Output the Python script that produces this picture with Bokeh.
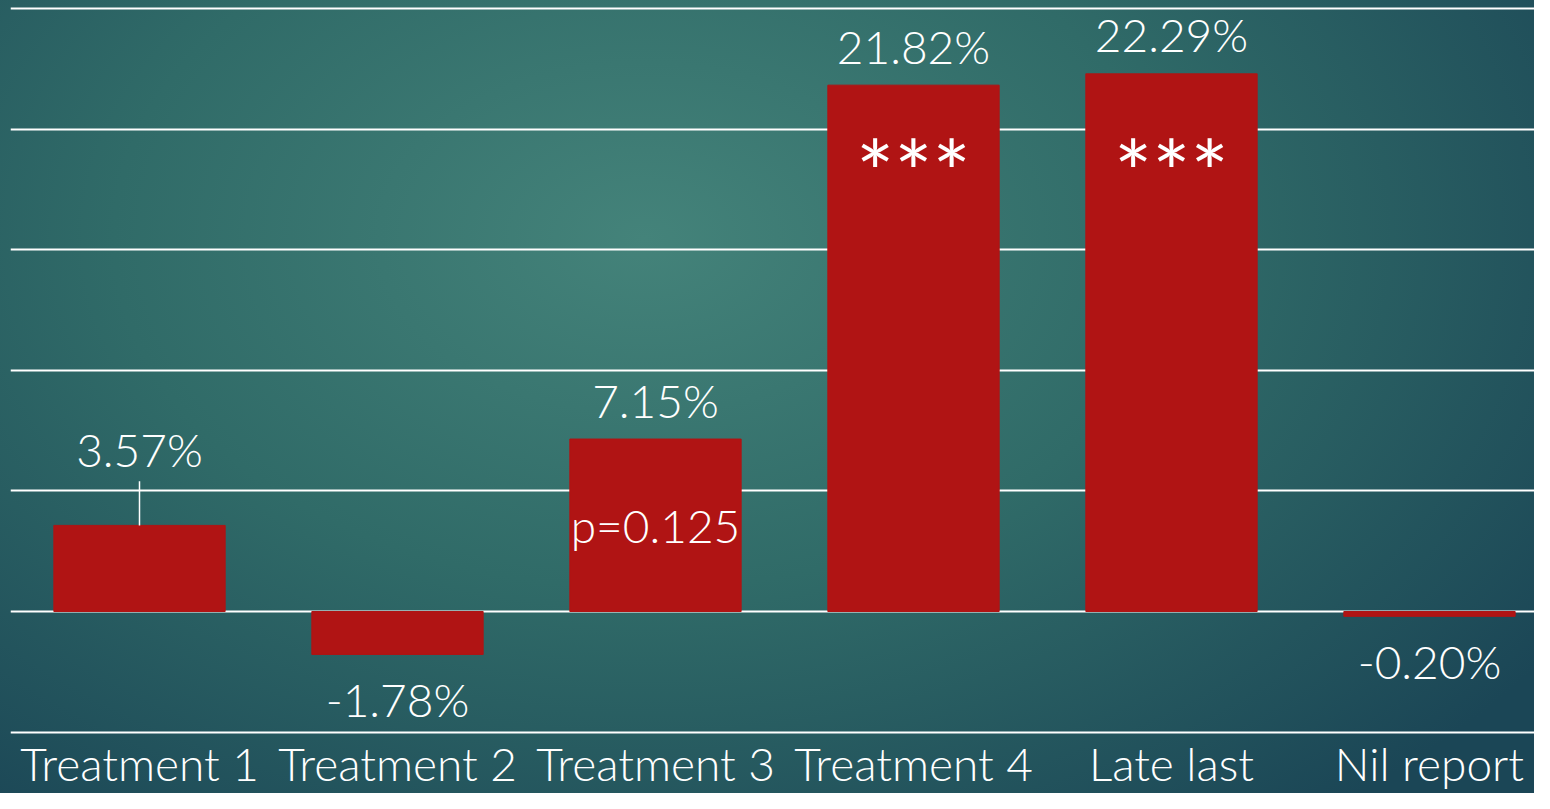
from bokeh.plotting import figure
from bokeh.models import FixedTicker, ColumnDataSource, Range1d
from bokeh.core.properties import value
from bokeh.embed import file_html
from bokeh.resources import INLINE

categories = ["Treatment 1", "Treatment 2", "Treatment 3", "Treatment 4", "Late last", "Nil report"]
values = [3.57, -1.78, 7.15, 21.82, 22.29, -0.20]
value_labels = ["3.57%", "-1.78%", "7.15%", "21.82%", "22.29%", "-0.20%"]
notes = ["", "", "p=0.125", "***", "***", ""]
y_ticks = [-5, 0, 5, 10, 15, 20, 25]

FONT = "Lato Light"
BAR = "#B01414"

xs = [i + 0.5 for i in range(len(categories))]

p = figure(x_range=Range1d(0, 5.907), y_range=Range1d(-5.14, 25.33),
           width=1534, height=793, output_backend="svg", toolbar_location=None,
           min_border_left=10, min_border_right=0, min_border_top=0)
p.styles = {"background-image": "radial-gradient(ellipse 72% 92% at 42% 30%, #44837a 0%, #306b68 48%, #1b4656 100%)"}
p.background_fill_color = None
p.border_fill_color = None
p.outline_line_color = None

p.vbar(x=xs, top=values, width=0.664, color=BAR)

# value labels
offsets = []
for c, v in zip(categories, values):
    if c == "Treatment 1":
        offsets.append(-76)
    elif v >= 0:
        offsets.append(-39)
    else:
        offsets.append(45)
src = ColumnDataSource(dict(x=xs, y=values, t=value_labels, off=offsets))
p.text(x="x", y="y", text="t", y_offset="off", source=src, text_align="center",
       text_baseline="middle", text_color="white", text_font=value(FONT),
       text_font_size="46px")

# leader line for first label
p.segment(x0=[xs[0]], y0=[values[0]], x1=[xs[0]], y1=[values[0] + 1.83],
          line_color="white", line_width=1.5)

# significance notes inside bars
starred = [v for v, n in zip(values, notes) if n == "***"]
star_level = min(starred) - 2.9
sx = [x for x, n in zip(xs, notes) if n == "***"]
p.text(x=sx, y=[star_level] * len(sx), text=["***"] * len(sx), y_offset=16,
       text_align="center", text_baseline="middle", text_color="white",
       text_font=value("Lato"), text_font_size="90px")

px_ = [x for x, n in zip(xs, notes) if n and n != "***"]
pv = [v / 2 for v, n in zip(values, notes) if n and n != "***"]
pt = [n for n in notes if n and n != "***"]
p.text(x=px_, y=pv, text=pt, text_align="center", text_baseline="middle",
       text_color="white", text_font=value(FONT), text_font_size="46px")

p.ygrid.ticker = FixedTicker(ticks=y_ticks)
p.ygrid.grid_line_color = "white"
p.ygrid.grid_line_width = 2
p.xgrid.visible = False
p.yaxis.visible = False

p.xaxis.ticker = FixedTicker(ticks=xs)
p.xaxis.major_label_overrides = {x: c for x, c in zip(xs, categories)}
p.xaxis.axis_line_color = None
p.xaxis.major_tick_line_color = None
p.xaxis.minor_tick_line_color = None
p.xaxis.major_tick_out = 0
p.xaxis.major_tick_in = 0
p.xaxis.major_label_standoff = 0
p.xaxis.major_label_text_font = FONT
p.xaxis.major_label_text_font_size = "46px"
p.xaxis.major_label_text_color = "white"

open("out.html", "w").write(file_html(p, INLINE))
